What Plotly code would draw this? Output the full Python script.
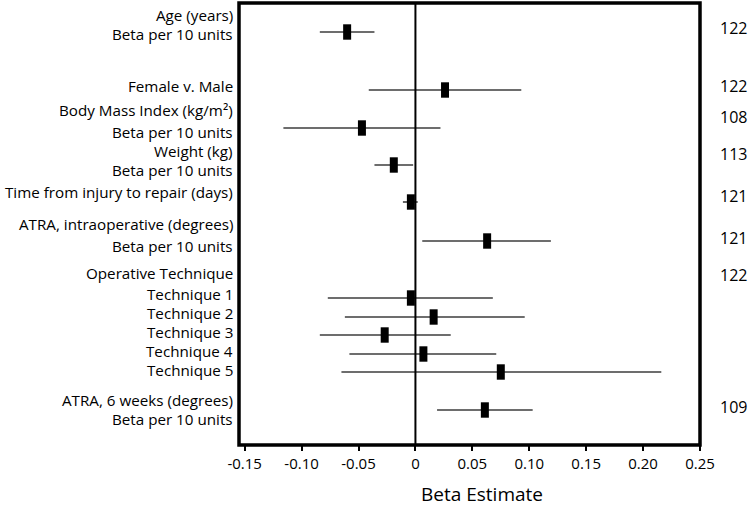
import plotly.graph_objects as go

# ---- data ----
predictors = ["Age", "Female v. Male", "BMI", "Weight", "Time to repair",
              "ATRA intraop", "Technique 1", "Technique 2", "Technique 3",
              "Technique 4", "Technique 5", "ATRA 6 weeks"]
beta = [-0.060, 0.026, -0.047, -0.019, -0.004, 0.063,
        -0.004, 0.016, -0.027, 0.007, 0.075, 0.061]
ci_low = [-0.084, -0.041, -0.116, -0.036, -0.011, 0.006,
          -0.077, -0.062, -0.084, -0.058, -0.065, 0.019]
ci_high = [-0.036, 0.093, 0.022, -0.002, 0.002, 0.119,
           0.068, 0.096, 0.031, 0.071, 0.216, 0.103]

label_lines = ["Age (years)", "Beta per 10 units", "Female v. Male",
               "Body Mass Index (kg/m²)", "Beta per 10 units", "Weight (kg)",
               "Beta per 10 units", "Time from injury to repair (days)",
               "ATRA, intraoperative (degrees)", "Beta per 10 units",
               "Operative Technique", "Technique 1", "Technique 2",
               "Technique 3", "Technique 4", "Technique 5",
               "ATRA, 6 weeks (degrees)", "Beta per 10 units"]
n_values = ["122", "122", "108", "113", "121", "121", "122", "109"]

tick_vals = [-0.15, -0.10, -0.05, 0, 0.05, 0.10, 0.15, 0.20, 0.25]
tick_text = ["-0.15", "-0.10", "-0.05", "0", "0.05", "0.10", "0.15", "0.20", "0.25"]

# ---- layout positions (vertical slots, in axis units) ----
point_y = [32, 90, 128, 165, 202, 241, 298, 317, 335, 354, 372, 410]
label_y = [15, 34, 86, 110, 132, 151, 170, 192, 224, 246, 273,
           294, 313, 332, 351, 370, 400, 419]
n_y = [28, 86, 117, 154, 196, 238, 275, 407]

FONT = "Open Sans"

fig = go.Figure()
fig.add_trace(go.Scatter(
    x=beta, y=point_y, mode="markers",
    marker=dict(symbol="line-ns", size=11, color="black",
                line=dict(width=8, color="black")),
    error_x=dict(type="data", symmetric=False,
                 array=[h - b for h, b in zip(ci_high, beta)],
                 arrayminus=[b - l for l, b in zip(ci_low, beta)],
                 thickness=1.6, width=0, color="#3c3c3c"),
    hovertext=predictors, showlegend=False,
))

annotations = []
for t, y in zip(label_lines, label_y):
    annotations.append(dict(text=t, x=0, xref="paper", y=y, yref="y",
                            xanchor="right", yanchor="middle", xshift=-5,
                            showarrow=False, borderpad=0,
                            font=dict(family=FONT, size=15.2, color="black")))
for t, y in zip(n_values, n_y):
    annotations.append(dict(text=t, x=1, xref="paper", y=y, yref="y",
                            xanchor="left", yanchor="middle", xshift=19,
                            showarrow=False, borderpad=0,
                            font=dict(family=FONT, size=16, color="black")))
annotations.append(dict(text="Beta Estimate", x=0.527, xref="paper",
                        y=(507 - 62 - 494) / (507 - 62 - 3), yref="paper",
                        yanchor="middle", showarrow=False,
                        font=dict(family=FONT, size=19, color="black")))

fig.update_layout(
    width=752, height=507,
    margin=dict(l=239, r=52, t=3, b=62),
    paper_bgcolor="white", plot_bgcolor="white",
    xaxis=dict(range=[-0.155, 0.25], tickvals=tick_vals, ticktext=tick_text,
               ticks="outside", ticklen=5, tickwidth=1.5, tickcolor="black",
               showgrid=False, zeroline=False, showline=False,
               tickfont=dict(family=FONT, size=15, color="black")),
    yaxis=dict(range=[445, 3], showticklabels=False, showgrid=False,
               zeroline=False, showline=False, ticks=""),
    annotations=annotations,
    shapes=[
        dict(type="line", xref="x", yref="paper", x0=0, x1=0, y0=0, y1=1,
             line=dict(color="black", width=2)),
        dict(type="rect", xref="paper", yref="paper", x0=0, x1=1, y0=0, y1=1,
             line=dict(color="black", width=3.5)),
    ],
)

fig.write_html(
    "out.html",
    config={"displayModeBar": False},
    post_script="document.body.style.margin='0';document.body.style.overflow='hidden';",
)
